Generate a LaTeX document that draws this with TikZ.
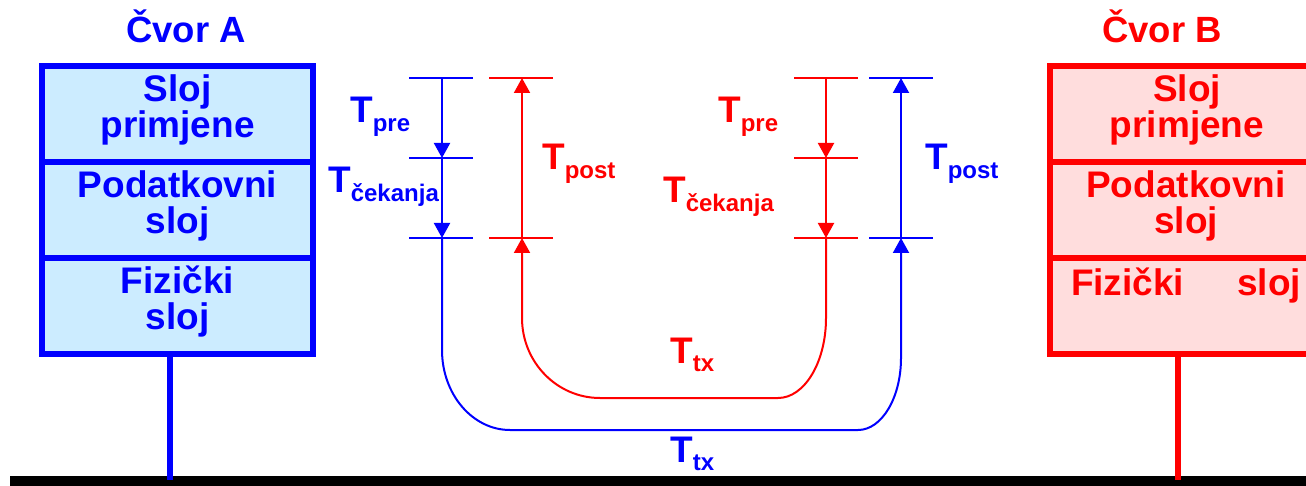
\documentclass[tikz,border=0pt]{standalone}
\usepackage{fontspec}
\setmainfont{Liberation Sans}
\usetikzlibrary{arrows.meta}
\definecolor{cblue}{RGB}{0,0,255}
\definecolor{cred}{RGB}{255,0,0}
\definecolor{fillA}{RGB}{204,236,255}
\definecolor{fillB}{RGB}{255,221,221}
\newcommand{\Tsub}[1]{T\raisebox{-8.5pt}{\fontsize{24}{24}\selectfont #1}}
\tikzset{
  layerbox/.style={draw=#1, line width=6pt, minimum width=271pt, minimum height=96pt, inner sep=0pt},
  laytext/.style={text=#1, font=\bfseries\fontsize{37}{35.5}\selectfont, text width=265pt, align=center, anchor=base, inner sep=0pt},
  title/.style={text=#1, font=\bfseries\fontsize{36.5}{36}\selectfont, anchor=base, inner sep=0pt},
  tlab/.style={text=#1, font=\bfseries\fontsize{37}{37}\selectfont, anchor=base west, inner sep=0pt},
  tick/.style={draw=#1, line width=2.2pt},
  tline/.style={draw=#1, line width=2pt},
  arr/.style={-{Triangle[width=16pt,length=15pt]}},
  stem/.style={draw=#1, line width=6.5pt}
}
\begin{document}
\begin{tikzpicture}[x=1pt,y=-1pt]
\clip (0,0) rectangle (1306,486);
\fill[white] (0,0) rectangle (1306,486);
% ground bar
\fill[black] (10,476) rectangle (1306,490);
% Node A
\node[title=cblue] (titA) at (186,43) {Čvor A};
\node[layerbox=cblue, fill=fillA] (A1) at (177.5,114) {};
\node[layerbox=cblue, fill=fillA] (A2) at (177.5,210) {};
\node[layerbox=cblue, fill=fillA] (A3) at (177.5,306) {};
\node[laytext=cblue] (tA1) at (177.5,102) {Sloj\\primjene};
\node[laytext=cblue] (tA2) at (177.5,198) {Podatkovni\\sloj};
\node[laytext=cblue] (tA3) at (177.5,294) {Fizički\\sloj};
\coordinate (gA) at (170,480);
\draw[stem=cblue] (A3.south -| gA) -- (gA);
% Node B
\node[title=cred] (titB) at (1162,43) {Čvor B};
\node[layerbox=cred, fill=fillB] (B1) at (1185.5,114) {};
\node[layerbox=cred, fill=fillB] (B2) at (1185.5,210) {};
\node[layerbox=cred, fill=fillB] (B3) at (1185.5,306) {};
\node[laytext=cred] (tB1) at (1187,102) {Sloj\\primjene};
\node[laytext=cred] (tB2) at (1186,198) {Podatkovni\\sloj};
\node[title=cred, font=\bfseries\fontsize{37}{37}\selectfont] (tB3) at (1186,295) {Fizički\hspace{53pt}sloj};
\coordinate (gB) at (1178,480);
\draw[stem=cred] (B3.south -| gB) -- (gB);
% blue left timing (A)
\coordinate (bl1) at (442,78);
\coordinate (bl2) at (442,158);
\coordinate (bl3) at (442,238);
\foreach \y in {78,158,238} \draw[tick=cblue] (409,\y) -- (473,\y);
\draw[tline=cblue, arr] (bl1) -- (bl2);
\draw[tline=cblue, arr] (bl2) -- (bl3);
% red left timing
\coordinate (rl1) at (522,78);
\coordinate (rl3) at (522,238);
\foreach \y in {78,238} \draw[tick=cred] (489,\y) -- (553,\y);
\draw[tline=cred, arr] (rl3) -- (rl1);
% red right timing (B)
\coordinate (rr1) at (826,78);
\coordinate (rr2) at (826,158);
\coordinate (rr3) at (826,238);
\foreach \y in {78,158,238} \draw[tick=cred] (794,\y) -- (858,\y);
\draw[tline=cred, arr] (rr1) -- (rr2);
\draw[tline=cred, arr] (rr2) -- (rr3);
% blue right timing
\coordinate (br1) at (901,78);
\coordinate (br3) at (901,238);
\foreach \y in {78,238} \draw[tick=cblue] (869,\y) -- (933,\y);
\draw[tline=cblue, arr] (br3) -- (br1);
% transmission paths
\draw[tline=cblue, arr] (bl3) -- (442,350)
  arc[start angle=180, end angle=90, x radius=68, y radius=80]
  -- (858,430)
  arc[start angle=90, end angle=0, x radius=43, y radius=72]
  -- (br3);
\draw[tline=cred, arr] (rr3) -- (826,318)
  arc[start angle=0, end angle=90, x radius=48, y radius=80]
  -- (600,398)
  arc[start angle=90, end angle=180, x radius=78, y radius=80]
  -- (rl3);
% labels
\node[tlab=cblue] (lbpre) at (350,123) {\Tsub{pre}};
\node[tlab=cblue] (lbcek) at (328,193) {\Tsub{čekanja}};
\node[tlab=cred] (lrpost) at (542,170) {\Tsub{post}};
\node[tlab=cred] (lrpre) at (718,123) {\Tsub{pre}};
\node[tlab=cred] (lrcek) at (663,203) {\Tsub{čekanja}};
\node[tlab=cblue] (lbpost) at (925,170) {\Tsub{post}};
\node[tlab=cred] (lrtx) at (670,363) {\Tsub{tx}};
\node[tlab=cblue] (lbtx) at (670,462) {\Tsub{tx}};
\end{tikzpicture}
\end{document}
